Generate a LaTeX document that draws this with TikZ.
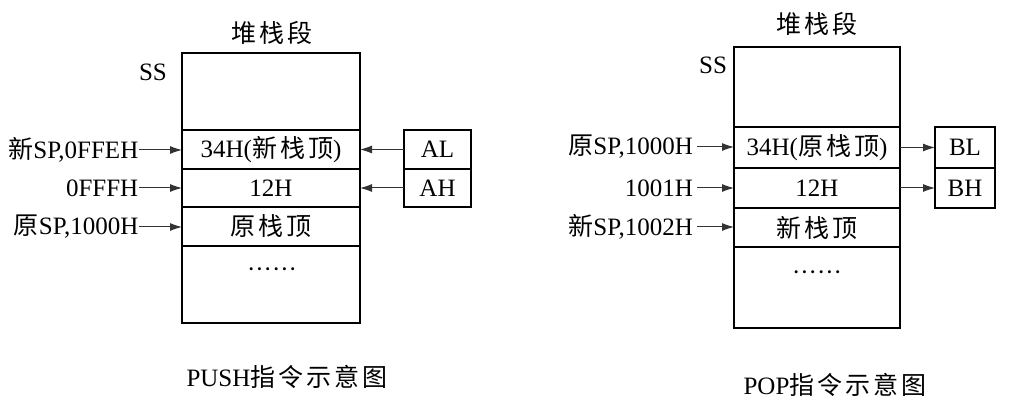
\documentclass[tikz,border=0pt]{standalone}
\usepackage{fontspec}
\setmainfont{Liberation Serif}
\newfontfamily\cjk[LetterSpace=12]{Noto Sans CJK SC}
\usetikzlibrary{arrows.meta,positioning}

\begin{document}
\begin{tikzpicture}[
    x=1pt, y=-1pt,
    txt/.style={inner sep=0.5pt, font=\fontsize{25}{29}\selectfont},
    cell/.style={rectangle, draw, line width=1.2pt, inner sep=0pt, outer sep=0pt, align=center, font=\fontsize{25}{29}\selectfont},
    lcell/.style={cell, minimum width=178pt},
    rcell/.style={cell, minimum width=166pt},
    lbl/.style={txt, anchor=east},
    arrow/.style={-{Latex[length=12pt,width=8pt]}, line width=1pt, black!80}
]
\useasboundingbox (0,0) rectangle (1023,403);

% PUSH stack
\node[txt] (ltitle) at (272,33) {\cjk 堆栈段};
\node[txt] (lss) at (153,72) {SS};
\node[lcell, minimum height=77pt] (lsA) at (271,91.5) {};
\node[lcell, minimum height=39pt] (lsB) at (271,149.5) {34H({\cjk 新栈顶})};
\node[lcell, minimum height=38pt] (lsC) at (271,188) {12H};
\node[lcell, minimum height=39pt] (lsD) at (271,226.5) {{\cjk 原栈顶}};
\node[lcell, minimum height=77pt] (lsE) at (271,284.5) {};
\node[txt] (ldots) at (272,273) {\textperiodcentered\textperiodcentered\textperiodcentered\textperiodcentered\textperiodcentered\textperiodcentered};

% registers AL / AH
\node[cell, minimum width=67pt, minimum height=39pt] (al) at (437.5,149.5) {AL};
\node[cell, minimum width=67pt, minimum height=38pt] (ah) at (437.5,188) {AH};

% address labels
\node[lbl] (lnew) at (139,150) {{\cjk 新}SP,0FFEH};
\node[lbl] (lmid) at (139,188) {0FFFH};
\node[lbl] (lold) at (139,227) {{\cjk 原}SP,1000H};

\draw[arrow] (lnew.east) -- (lnew.east -| lsB.west);
\draw[arrow] (lmid.east) -- (lmid.east -| lsC.west);
\draw[arrow] (lold.east) -- (lold.east -| lsD.west);
\draw[arrow] (al.west) -- (lsB.east);
\draw[arrow] (ah.west) -- (lsC.east);

\node[txt] (lcap) at (287,377) {PUSH{\cjk 指令示意图}};

% POP stack
\node[txt] (rtitle) at (817,24) {\cjk 堆栈段};
\node[txt] (rss) at (713,65) {SS};
\node[rcell, minimum height=80pt] (rsA) at (817,87) {};
\node[rcell, minimum height=41pt] (rsB) at (817,147.5) {34H({\cjk 原栈顶})};
\node[rcell, minimum height=40pt] (rsC) at (817,188) {12H};
\node[rcell, minimum height=39pt] (rsD) at (817,227.5) {{\cjk 新栈顶}};
\node[rcell, minimum height=81pt] (rsE) at (817,287.5) {};
\node[txt] (rdots) at (817,276) {\textperiodcentered\textperiodcentered\textperiodcentered\textperiodcentered\textperiodcentered\textperiodcentered};

% registers BL / BH
\node[cell, minimum width=60pt, minimum height=41pt] (bl) at (965,147.5) {BL};
\node[cell, minimum width=60pt, minimum height=40pt] (bh) at (965,188) {BH};

% address labels
\node[lbl, inner sep=4pt] (rold) at (697,147) {{\cjk 原}SP,1000H};
\node[lbl, inner sep=4pt] (rmid) at (697,188) {1001H};
\node[lbl, inner sep=4pt] (rnew) at (697,227) {{\cjk 新}SP,1002H};

\draw[arrow] (rold.east) -- (rold.east -| rsB.west);
\draw[arrow] (rmid.east) -- (rmid.east -| rsC.west);
\draw[arrow] (rnew.east) -- (rnew.east -| rsD.west);
\draw[arrow] (rsB.east) -- (bl.west);
\draw[arrow] (rsC.east) -- (bh.west);

\node[txt] (rcap) at (835,385) {POP{\cjk 指令示意图}};

\end{tikzpicture}
\end{document}
